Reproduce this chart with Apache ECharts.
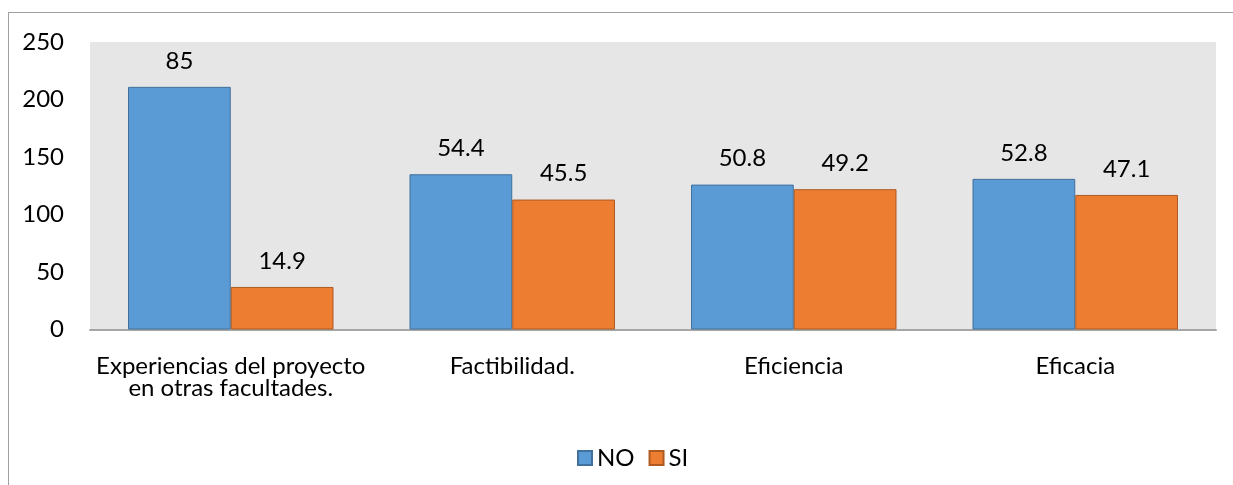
<!DOCTYPE html>
<html>
<head>
<meta charset="utf-8">
<script src="https://cdn.jsdelivr.net/npm/echarts@6/dist/echarts.min.js"></script>
<style>
  body { margin: 0; background: #fff; }
  #frame { position: absolute; left: 8px; top: 12px; width: 1400px; height: 600px;
           border-left: 1px solid #a0a0a0; border-top: 1px solid #a0a0a0; }
  #chart { position: absolute; left: 0; top: 0; width: 1233px; height: 485px; }
</style>
</head>
<body>
<div id="frame"></div>
<div id="chart"></div>
<script>
// categories and values (bar heights are counts, labels are percentages)
const categories = [
  "Experiencias del proyecto\nen otras facultades.",
  "Factibilidad.",
  "Eficiencia",
  "Eficacia"
];
const noValues = [211, 135, 126, 131];
const siValues = [37, 113, 122, 117];
const noLabels = ["85", "54.4", "50.8", "52.8"];
const siLabels = ["14.9", "45.5", "49.2", "47.1"];
const yTicks = [0, 50, 100, 150, 200, 250];

const font = "Lato";
const fs = 24;
const chart = echarts.init(document.getElementById("chart"));

const makeSeries = (name, values, labels, color, border) => ({
  name: name,
  type: "bar",
  data: values,
  barGap: "0%",
  barCategoryGap: "27%",
  itemStyle: { color: color, borderColor: border, borderWidth: 1 },
  label: {
    show: true,
    position: "top",
    distance: 14,
    fontFamily: font,
    fontSize: fs,
    color: "#000",
    formatter: (p) => labels[p.dataIndex]
  }
});

const option = {
  animation: false,
  textStyle: { fontFamily: font },
  grid: { left: 90, right: 17, top: 42, bottom: 155.5, show: true, backgroundColor: "#e6e6e6", borderWidth: 0 },
  legend: {
    data: ["NO", "SI"],
    left: 572,
    top: 441,
    icon: "rect",
    itemWidth: 14,
    itemHeight: 14,
    itemGap: 14,
    textStyle: { fontFamily: font, fontSize: fs, color: "#000" }
  },
  xAxis: {
    type: "category",
    data: categories,
    axisLine: { show: true, lineStyle: { color: "#a6a6a6", width: 2 } },
    axisTick: { show: false },
    axisLabel: { fontFamily: font, fontSize: fs, color: "#000", lineHeight: 22, margin: 26, interval: 0 }
  },
  yAxis: {
    type: "value",
    min: yTicks[0],
    max: yTicks[yTicks.length - 1],
    interval: 50,
    axisLine: { show: false },
    axisTick: { show: false },
    splitLine: { show: false },
    axisLabel: { fontFamily: font, fontSize: fs, color: "#000", margin: 26 }
  },
  series: [
    makeSeries("NO", noValues, noLabels, "#5b9bd5", "#41719c"),
    makeSeries("SI", siValues, siLabels, "#ed7d31", "#ae5a21")
  ]
};

chart.setOption(option);
</script>
</body>
</html>
